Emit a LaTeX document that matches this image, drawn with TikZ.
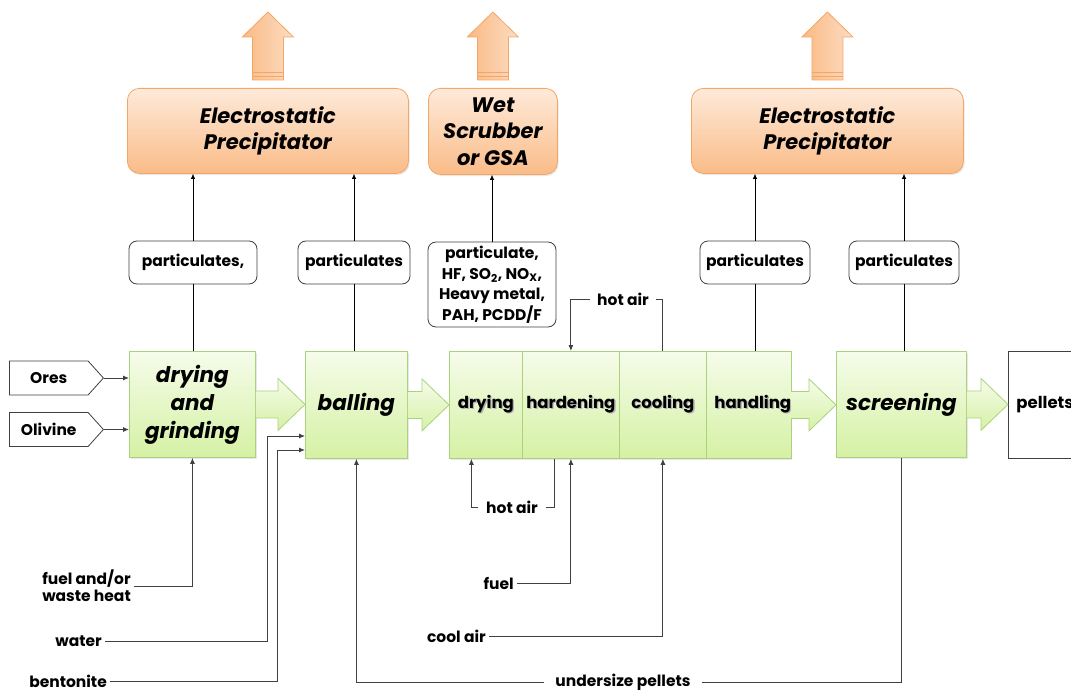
\documentclass[tikz,border=0pt]{standalone}
\usepackage{fontspec}
\setmainfont{Poppins}
\usetikzlibrary{arrows.meta,shapes.symbols,shadows,calc}

\definecolor{gtop}{RGB}{245,252,234}
\definecolor{gbot}{RGB}{213,241,164}
\definecolor{gline}{RGB}{170,210,125}
\definecolor{otop}{RGB}{254,234,218}
\definecolor{obot}{RGB}{250,188,136}
\definecolor{oline}{RGB}{245,165,100}
\definecolor{ink}{RGB}{64,64,64}

% text with a soft offset shadow
\newcommand{\shadowtext}[1]{\leavevmode\rlap{\raisebox{-1.3pt}{\hspace{1.3pt}\textcolor{black!30}{#1}}}#1}

% wide green arrow between two process boxes
\newcommand{\flowarrow}[2]{%
  \path[flowfill] let \p1=(#1.east), \p2=(#2.west) in
    (\x1,\y1+13.5) -- (\x2-27,\y1+13.5) -- (\x2-27,\y1+26) -- (\x2,\y1)
    -- (\x2-27,\y1-26) -- (\x2-27,\y1-13.5) -- (\x1,\y1-13.5);}

% orange exhaust arrow above a control unit
\newcommand{\exhaust}[1]{%
  \path[exhaustfill] let \p1=(#1.north) in
    (\x1-15.5,\y1+8) -- (\x1-15.5,\y1+51) -- (\x1-25.5,\y1+51) -- (\x1,\y1+76)
    -- (\x1+25.5,\y1+51) -- (\x1+15.5,\y1+51) -- (\x1+15.5,\y1+8) -- cycle;
  \draw[oline, line width=0.7pt] let \p1=(#1.north) in
    (\x1-15.5,\y1+12) -- (\x1+15.5,\y1+12)
    (\x1-15.5,\y1+16) -- (\x1+15.5,\y1+16);}

\begin{document}
\begin{tikzpicture}[x=1pt,y=-1pt,
  every node/.style={inner sep=0pt},
  procbox/.style={draw=gline, line width=0.8pt, top color=gtop, bottom color=gbot,
    anchor=north west, align=center,
    drop shadow={shadow xshift=1.2pt, shadow yshift=-1.6pt, opacity=0.18}},
  bigtxt/.style={font=\fontsize{21.5}{28}\selectfont\bfseries\itshape},
  steptxt/.style={font=\fontsize{16.5}{18}\selectfont\bfseries},
  ctrlbox/.style={draw=oline, line width=0.8pt, rounded corners=12pt,
    top color=otop, bottom color=obot, anchor=north west, align=center,
    font=\fontsize{21}{26.5}\selectfont\bfseries\itshape,
    drop shadow={shadow xshift=1.2pt, shadow yshift=-1.6pt, opacity=0.18}},
  emitbox/.style={draw=ink, line width=0.8pt, rounded corners=8pt, fill=white,
    align=center, font=\fontsize{15.5}{20.5}\selectfont\bfseries, minimum height=43},
  feedbox/.style={signal, signal to=east, signal pointer angle=96, draw=ink,
    line width=0.8pt, fill=white, minimum width=94, minimum height=34,
    font=\fontsize{15.5}{17}\selectfont\bfseries, anchor=west},
  lbl/.style={font=\fontsize{15.5}{17}\selectfont\bfseries, inner xsep=3pt, inner ysep=1pt},
  feed/.style={draw=ink, line width=0.9pt, -{Latex[length=6pt,width=5pt]}},
  plain/.style={draw=ink, line width=0.9pt},
  emit/.style={draw=black, line width=0.7pt, -{Latex[length=5pt,width=4.5pt]}},
  emitline/.style={draw=black, line width=0.7pt},
  flowfill/.style={draw=gline, line width=0.8pt, top color=gtop, bottom color=gbot},
  exhaustfill/.style={draw=oline, line width=0.8pt, left color=obot!90!oline, right color=otop!70!obot}
]
\useasboundingbox (0,0) rectangle (1071,690);

% --- process line ---
\node[procbox, minimum width=126, minimum height=106, bigtxt] (dg) at (129,351) {drying\\and\\grinding};
\node[procbox, minimum width=102, minimum height=107, bigtxt] (balling) at (305,351) {balling};
\node[procbox, minimum width=73, minimum height=107, steptxt] (drying) at (449,351) {\shadowtext{drying}};
\node[procbox, minimum width=97, minimum height=107, steptxt] (hardening) at (522,351) {\shadowtext{hardening}};
\node[procbox, minimum width=87, minimum height=107, steptxt] (cooling) at (619,351) {\raisebox{2pt}{\shadowtext{cooling}}};
\node[procbox, minimum width=84, minimum height=107, steptxt] (handling) at (706,351) {\hspace{8pt}\shadowtext{handling}};
\node[procbox, minimum width=130, minimum height=106, bigtxt] (screening) at (836,351) {\raisebox{2pt}{screening}};
\node[draw=ink, line width=0.8pt, fill=white, anchor=north west, minimum width=100,
  minimum height=107, text width=84, align=left, inner xsep=8pt,
  font=\fontsize{16.5}{18}\selectfont\bfseries] (pellets) at (1008,351) {pellets};

\flowarrow{dg}{balling}
\flowarrow{balling}{drying}
\flowarrow{handling}{screening}
\flowarrow{screening}{pellets}

% --- raw material feeds ---
\node[feedbox] (ores) at (9,378) {Ores};
\node[feedbox] (olivine) at (9,429.5) {Olivine};
\draw[feed] (ores.east) -- (ores.east -| dg.west);
\draw[feed] (olivine.east) -- (olivine.east -| dg.west);

% --- control units ---
\node[ctrlbox, minimum width=281, minimum height=85] (esp1) at (127,88) {Electrostatic\\Precipitator};
\node[ctrlbox, minimum width=129, minimum height=86] (wet) at (428,88) {Wet\\Scrubber\\or GSA};
\node[ctrlbox, minimum width=272, minimum height=85] (esp2) at (691,88) {Electrostatic\\Precipitator};
\exhaust{esp1}
\exhaust{wet}
\exhaust{esp2}

% --- emissions ---
\node[emitbox, minimum width=128] (p1) at (193,262.5) {particulates,};
\node[emitbox, minimum width=112] (p2) at (354,262.5) {particulates};
\node[emitbox, minimum width=128, minimum height=85] (pm) at (492,284.5)
  {particulate,\\HF, SO\textsubscript{2}, NO\textsubscript{X},\\Heavy metal,\\PAH, PCDD/F};
\node[emitbox, minimum width=110] (p3) at (755,262.5) {particulates};
\node[emitbox, minimum width=110] (p4) at (904,262.5) {particulates};

\draw[emitline] (p1.south) -- (p1.south |- dg.north);
\draw[emit] (p1.north) -- (p1.north |- esp1.south);
\draw[emitline] (p2.south) -- (p2.south |- balling.north);
\draw[emit] (p2.north) -- (p2.north |- esp1.south);
\draw[emitline] ($(pm.south)+(-3,0)$) -- ($(pm.south)+(-3,0)$ |- drying.north);
\draw[emit] (pm.north) -- (pm.north |- wet.south);
\draw[emitline] (p3.south) -- (p3.south |- handling.north);
\draw[emit] (p3.north) -- (p3.north |- esp2.south);
\draw[emitline] (p4.south) -- (p4.south |- screening.north);
\draw[emit] (p4.north) -- (p4.north |- esp2.south);

% --- hot air recirculation ---
\node[lbl, inner xsep=7pt] (hotairT) at (623,299) {hot air};
\draw[plain] (cooling.north) |- (hotairT.east);
\draw[feed] (hotairT.west) -| (hardening.north);

\node[lbl, inner xsep=8pt] (hotairB) at (512,507) {hot air};
\coordinate (hbA) at ($(hardening.south)+(-16.5,0)$);
\coordinate (hbB) at ($(drying.south)+(-14.5,0)$);
\draw[plain] (hbA) |- (hotairB.east);
\draw[feed] (hotairB.west) -| (hbB);

% --- utilities and additives ---
\node[lbl, anchor=east, align=left] (fuelw) at (134,586) {fuel and/or\\waste heat};
\draw[feed] (fuelw.east) -| (dg.south);

\node[lbl, anchor=east] (water) at (105,641) {water};
\coordinate (wbend) at (267,436);
\draw[feed] (water.east) -| (wbend) -- (wbend -| balling.west);

\node[lbl, anchor=east] (bentonite) at (110,681) {bentonite};
\coordinate (bbend) at (277,450);
\draw[feed] (bentonite.east) -| (bbend) -- (bbend -| balling.west);

\node[lbl, anchor=east] (fuel) at (517,583) {fuel};
\draw[feed] (fuel.east) -| (hardening.south);

\node[lbl, anchor=east] (coolair) at (489,636) {cool air};
\draw[feed] (coolair.east) -| (cooling.south);

% --- recycle of undersize pellets ---
\node[lbl, inner xsep=11pt] (undersize) at (623,682) {undersize pellets};
\draw[plain] (screening.south) |- (undersize.east);
\draw[feed] (undersize.west) -| (balling.south);
\end{tikzpicture}
\end{document}
